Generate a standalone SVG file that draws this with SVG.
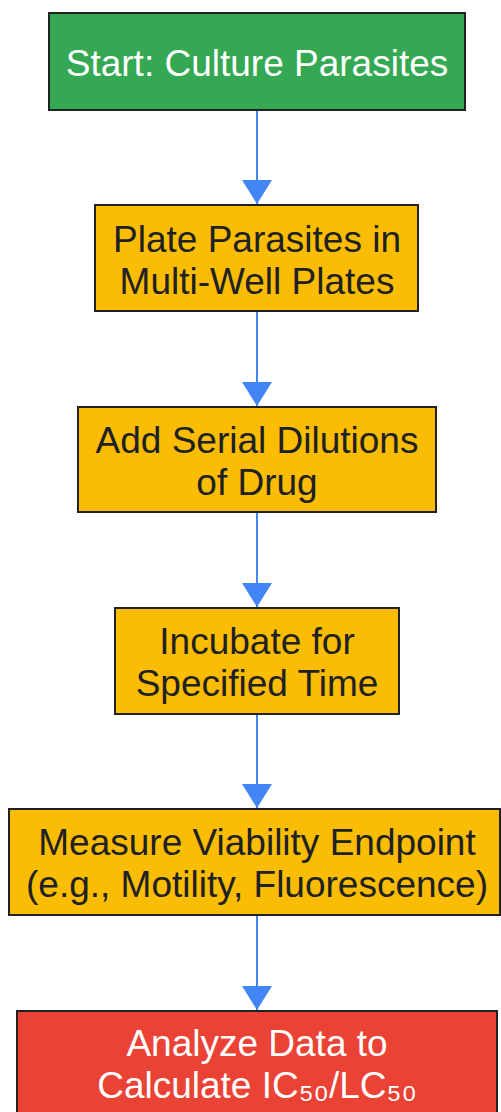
<svg xmlns="http://www.w3.org/2000/svg" width="501" height="1112" viewBox="0 0 501 1112">
<defs>
<style>
.box{stroke:#222;stroke-width:2}
.t{font-family:"Liberation Sans",Arial,sans-serif;font-size:37px;text-anchor:middle}
.dark{fill:#202124}
.light{fill:#ffffff}
.edge{stroke:#4285F4;stroke-width:2;fill:none}
</style>
<marker id="ah" viewBox="0 0 24 30" refX="24" refY="15" markerWidth="24" markerHeight="30" markerUnits="userSpaceOnUse" orient="auto">
<path d="M0,0 L24,15 L0,30 Z" fill="#4285F4"/>
</marker>
</defs>
<rect width="501" height="1112" fill="#ffffff"/>
<g id="connectors">
<line class="edge" x1="257" y1="110" x2="257" y2="204" marker-end="url(#ah)"/>
<line class="edge" x1="257" y1="311" x2="257" y2="406" marker-end="url(#ah)"/>
<line class="edge" x1="257" y1="512" x2="257" y2="607" marker-end="url(#ah)"/>
<line class="edge" x1="257" y1="714" x2="257" y2="808" marker-end="url(#ah)"/>
<line class="edge" x1="257" y1="915" x2="257" y2="1010" marker-end="url(#ah)"/>
</g>
<g id="n1">
<rect class="box" x="49" y="13" width="416" height="97" fill="#34A853"/>
<text class="t light" x="257" y="76">Start: Culture Parasites</text>
</g>
<g id="n2">
<rect class="box" x="95" y="205" width="323" height="106" fill="#FBBC04"/>
<text class="t dark" x="257" y="252">Plate Parasites in</text>
<text class="t dark" x="257" y="294">Multi-Well Plates</text>
</g>
<g id="n3">
<rect class="box" x="78" y="407" width="358" height="105" fill="#FBBC04"/>
<text class="t dark" x="257" y="453">Add Serial Dilutions</text>
<text class="t dark" x="257" y="495">of Drug</text>
</g>
<g id="n4">
<rect class="box" x="115" y="608" width="284" height="106" fill="#FBBC04"/>
<text class="t dark" x="257" y="654">Incubate for</text>
<text class="t dark" x="257" y="696">Specified Time</text>
</g>
<g id="n5">
<rect class="box" x="9" y="809" width="491" height="106" fill="#FBBC04"/>
<text class="t dark" x="257" y="855">Measure Viability Endpoint</text>
<text class="t dark" x="257" y="897">(e.g., Motility, Fluorescence)</text>
</g>
<g id="n6">
<rect class="box" x="17" y="1011" width="480" height="110" fill="#EA4335"/>
<text class="t light" x="257" y="1056">Analyze Data to</text>
<text class="t light" x="257" y="1098">Calculate IC₅₀/LC₅₀</text>
</g>
</svg>
